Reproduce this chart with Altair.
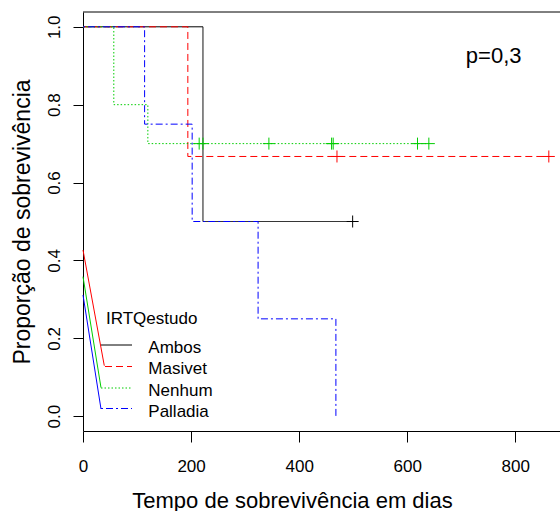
import altair as alt
import pandas as pd

# ---- data ----
groups = ["Ambos", "Masivet", "Nenhum", "Palladia"]
colors = ["#000000", "#FF0000", "#00CD00", "#0000FF"]
dashes = [[1, 0], [7, 4], [1.5, 2], [2, 3, 7, 3]]

# Kaplan-Meier step curves (time in days, survival proportion)
ambos_t = [0, 222, 499]
ambos_s = [1.0, 0.5, 0.5]
masivet_t = [0, 194, 862]
masivet_s = [1.0, 0.667, 0.667]
nenhum_t = [0, 57, 120, 640]
nenhum_s = [1.0, 0.8, 0.7, 0.7]
palladia_t = [0, 114, 202, 324, 468]
palladia_s = [1.0, 0.75, 0.5, 0.25, 0.0]

# censored observations
ambos_ct = [499]
ambos_cs = [0.5]
masivet_ct = [470, 862]
masivet_cs = [0.667, 0.667]
nenhum_ct = [215, 222, 344, 460, 463, 619, 640]
nenhum_cs = [0.7, 0.7, 0.7, 0.7, 0.7, 0.7, 0.7]

x_ticks = [0, 200, 400, 600, 800]
y_ticks = [0.0, 0.2, 0.4, 0.6, 0.8, 1.0]

p_text = ["p=0,3"]
p_time = [760]
p_surv = [0.906]

legend_title = "IRTQestudo"

# ---- tables ----
curves = pd.concat([
    pd.DataFrame({"group": g, "time": t, "surv": s})
    for g, t, s in zip(groups,
                       [ambos_t, masivet_t, nenhum_t, palladia_t],
                       [ambos_s, masivet_s, nenhum_s, palladia_s])
], ignore_index=True)

censors = pd.concat([
    pd.DataFrame({"group": g, "time": t, "surv": s})
    for g, t, s in zip(groups[:3],
                       [ambos_ct, masivet_ct, nenhum_ct],
                       [ambos_cs, masivet_cs, nenhum_cs])
], ignore_index=True)

ptab = pd.DataFrame({"label": p_text, "time": p_time, "surv": p_surv})

# legend layout (pixels inside the plot frame)
leg = pd.DataFrame({
    "group": groups,
    "x0": [18, 22, 18, 18],
    "x1": [49, 49, 49, 49],
    "ys": [333, 354.5, 376, 396.5],
    "xt": [65.3] * 4,
    "yt": [336, 357, 379, 400],
})
slant = pd.DataFrame({
    "group": groups[1:],
    "xa": [0, 0, 0],
    "ya": [238, 264.7, 283],
    "xb": [21.3, 18, 18],
    "yb": [353.7, 375.7, 397],
})

color_scale = alt.Scale(domain=groups, range=colors)
dash_scale = alt.Scale(domain=groups, range=dashes)

FONT = "Liberation Sans"

x_enc = alt.X(
    "time:Q",
    scale=alt.Scale(domain=[0, 882.7], nice=False, zero=False),
    axis=alt.Axis(
        values=x_ticks, format="d", grid=False, tickSize=11,
        labelFontSize=17, labelPadding=24, labelBaseline="middle",
        labelFlush=False, labelOverlap=False,
        title="Tempo de sobrevivência em dias", titleFontSize=22,
        titleX=209, titleY=76, titleAlign="center", titleBaseline="alphabetic",
    ),
)
y_enc = alt.Y(
    "surv:Q",
    scale=alt.Scale(domain=[-0.038, 1.038], nice=False, zero=False),
    axis=alt.Axis(
        values=y_ticks, format=".1f", grid=False, tickSize=10,
        labelFontSize=17, labelPadding=18.5, labelAngle=270,
        labelAlign="center", labelBaseline="middle",
        labelFlush=False, labelOverlap=False,
        title="Proporção de sobrevivência", titleFontSize=23, titleAngle=270,
        titleX=-53.7, titleY=209.5, titleAlign="center", titleBaseline="alphabetic",
    ),
)

lines = alt.Chart(curves).mark_line(interpolate="step-after", strokeWidth=1).encode(
    x=x_enc, y=y_enc,
    color=alt.Color("group:N", scale=color_scale, legend=None),
    strokeDash=alt.StrokeDash("group:N", scale=dash_scale, legend=None),
    detail="group:N",
    order="time:Q",
)

crosses = alt.Chart(censors).mark_point(
    shape="M-1,0H1M0,-1V1", size=144, filled=False, strokeWidth=1, opacity=1
).encode(
    x="time:Q", y="surv:Q",
    color=alt.Color("group:N", scale=color_scale, legend=None),
)

ptxt = alt.Chart(ptab).mark_text(
    align="center", baseline="alphabetic", fontSize=22, font=FONT, color="black"
).encode(x="time:Q", y="surv:Q", text="label:N")

top_frame = alt.Chart(pd.DataFrame({"a": [0]})).mark_rule(color="black", strokeWidth=1).encode(
    x=alt.value(0), x2=alt.value(477), y=alt.value(0)
)

leg_lines = alt.Chart(leg).mark_rule(strokeWidth=1).encode(
    x=alt.X("x0:Q", scale=None, axis=None), x2="x1:Q",
    y=alt.Y("ys:Q", scale=None, axis=None),
    color=alt.Color("group:N", scale=color_scale, legend=None),
    strokeDash=alt.StrokeDash("group:N", scale=dash_scale, legend=None),
)
leg_text = alt.Chart(leg).mark_text(
    align="left", baseline="middle", fontSize=17, font=FONT, color="black"
).encode(
    x=alt.X("xt:Q", scale=None, axis=None),
    y=alt.Y("yt:Q", scale=None, axis=None),
    text="group:N",
)
leg_title = alt.Chart(pd.DataFrame({"t": [legend_title]})).mark_text(
    align="left", baseline="middle", fontSize=17, font=FONT, color="black"
).encode(x=alt.value(23), y=alt.value(307), text="t:N")

slants = alt.Chart(slant).mark_rule(strokeWidth=1).encode(
    x=alt.X("xa:Q", scale=None, axis=None), x2="xb:Q",
    y=alt.Y("ya:Q", scale=None, axis=None), y2="yb:Q",
    color=alt.Color("group:N", scale=color_scale, legend=None),
)

chart = alt.layer(
    lines, crosses, ptxt, top_frame, slants, leg_lines, leg_text, leg_title
).properties(
    width=477, height=419,
    autosize=alt.AutoSizeParams(type="none"),
    padding={"left": 83, "top": 12, "right": 0, "bottom": 80},
    background="white",
).configure_view(stroke=None).configure_axis(
    labelFont=FONT, titleFont=FONT, labelColor="black", titleColor="black",
    titleFontWeight="normal", domainColor="black", tickColor="black",
    domainWidth=1, tickWidth=1,
).configure_text(font=FONT)

chart.save("out.html", embed_options={"renderer": "svg", "actions": False})
